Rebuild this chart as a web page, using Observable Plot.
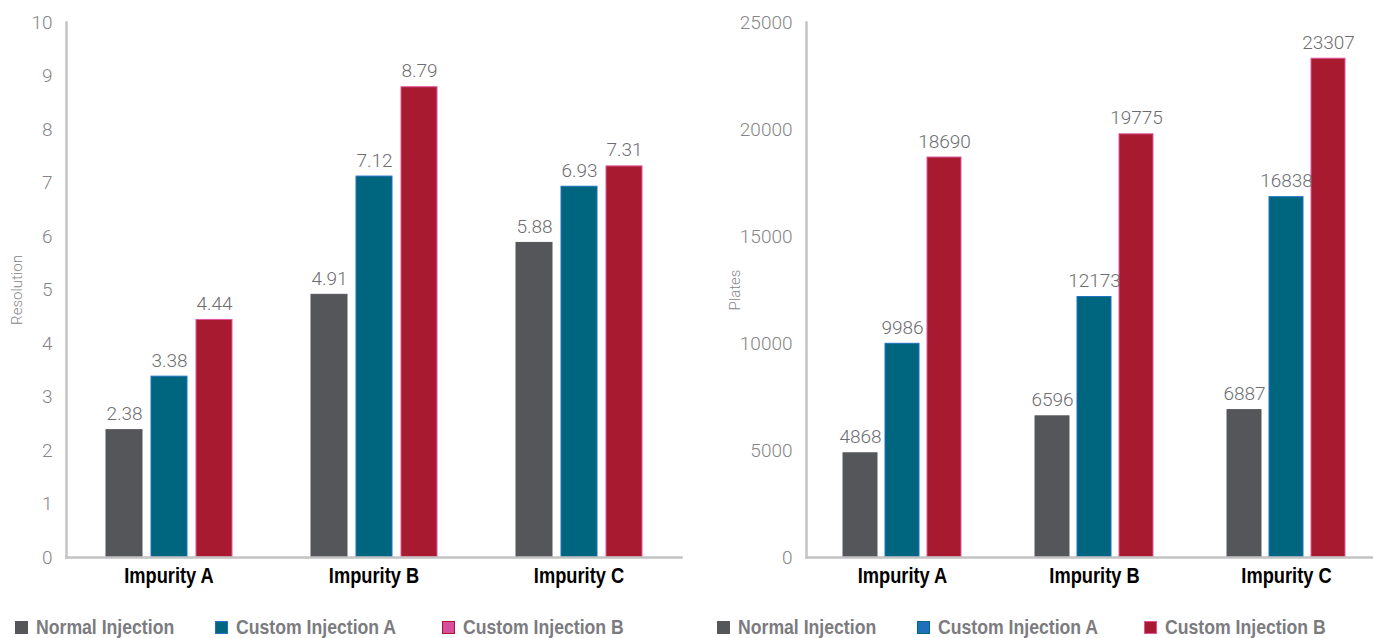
<!DOCTYPE html>
<html>
<head>
<meta charset="utf-8">
<script src="https://cdn.jsdelivr.net/npm/d3@7"></script>
<script src="https://cdn.jsdelivr.net/npm/@observablehq/plot@0.6"></script>
<style>
  html, body { margin: 0; padding: 0; background: #fff; }
  #wrap { position: relative; width: 1373px; height: 638px; overflow: hidden; }
  .panel { position: absolute; top: 0; width: 686px; height: 638px; }
  .legend { position: absolute; top: 615px; display: flex; align-items: center;
    font-family: "Liberation Sans", Arial, sans-serif;
    font-weight: bold; font-size: 21px; color: #7b7b80; white-space: nowrap; }
  .legend .item { display: flex; align-items: center; }
  .legend .sw { width: 13px; height: 13px; margin-right: 8px; box-sizing: border-box; border: 1.5px solid; }
  .legend span { display: inline-block; transform: scaleX(0.84); transform-origin: left center; }
</style>
</head>
<body>
<div id="wrap">
  <div class="panel" id="left" style="left:0"></div>
  <div class="panel" id="right" style="left:687px"></div>
</div>
<script>
const categories = ["Impurity A", "Impurity B", "Impurity C"];
const series = ["Normal Injection", "Custom Injection A", "Custom Injection B"];
const resolutionNormal = [2.38, 4.91, 5.88];
const resolutionCustomA = [3.38, 7.12, 6.93];
const resolutionCustomB = [4.44, 8.79, 7.31];
const platesNormal = [4868, 6596, 6887];
const platesCustomA = [9986, 12173, 16838];
const platesCustomB = [18690, 19775, 23307];
const resolutionTicks = [0, 1, 2, 3, 4, 5, 6, 7, 8, 9, 10];
const platesTicks = [0, 5000, 10000, 15000, 20000, 25000];

const fillColors = {"Normal Injection": "#55565a", "Custom Injection A": "#00657f", "Custom Injection B": "#a81a2f"};
const strokeColors = {"Normal Injection": "#55565a", "Custom Injection A": "#1f73c0", "Custom Injection B": "#e0569b"};

function table(vals) {
  const rows = [];
  categories.forEach((c, i) => vals.forEach((v, s) => rows.push({category: c, series: series[s], value: v[i]})));
  return rows;
}

const tickFont = "Roboto, 'Liberation Sans', sans-serif";
const catFont = "'Liberation Sans', Arial, sans-serif";

function chart({data, yDomain, ticks, label, marginLeft, fxRange, pi, po, labelOffset}) {
  return Plot.plot({
    width: 686,
    height: 610,
    marginTop: 22,
    marginBottom: 53,
    marginLeft,
    marginRight: 0,
    style: {fontFamily: tickFont, background: "transparent"},
    fx: {domain: categories, padding: 0, range: fxRange},
    x: {domain: series, paddingInner: pi, paddingOuter: po, axis: null},
    y: {domain: yDomain},
    color: {type: "identity"},
    marks: [
      Plot.barY(data, {fx: "category", x: "series", y: "value",
        fill: d => fillColors[d.series], stroke: d => strokeColors[d.series], strokeWidth: 1}),
      Plot.text(data, {fx: "category", x: "series", y: "value", text: d => String(d.value),
        dy: -10, lineAnchor: "bottom", fill: "#6d6d70", fontSize: 19, fontWeight: 300, fontFamily: tickFont}),
      Plot.frame({anchor: "left", facet: "super", stroke: "#c3c3c3", strokeWidth: 2.5}),
      Plot.frame({anchor: "bottom", facet: "super", stroke: "#c3c3c3", strokeWidth: 2.5}),
      Plot.axisY({ticks, tickFormat: d => String(d), tickSize: 0, tickPadding: 14, fontSize: 19, fontWeight: 300, fill: "#858588",
        label, labelAnchor: "center", labelArrow: "none", labelOffset}),
      Plot.axisFx({anchor: "bottom", tickSize: 0, tickPadding: 10, fontSize: 22, fontWeight: "bold",
        fontFamily: catFont, fill: "#000", label: null})
    ]
  });
}

const left = chart({data: table([resolutionNormal, resolutionCustomA, resolutionCustomB]),
  yDomain: [0, 10], ticks: resolutionTicks, label: "Resolution", marginLeft: 66,
  fxRange: [66, 681], pi: 0.21, po: 0.857, labelOffset: 55});
const right = chart({data: table([platesNormal, platesCustomA, platesCustomB]),
  yDomain: [0, 25000], ticks: platesTicks, label: "Plates", marginLeft: 119,
  fxRange: [119, 695], pi: 0.2, po: 0.859, labelOffset: 77});

document.getElementById("left").appendChild(left);
document.getElementById("right").appendChild(right);

for (const svg of [left, right]) {
  svg.querySelectorAll("[aria-label='y-axis label'] text").forEach(t => {
    t.setAttribute("font-size", "15"); t.setAttribute("fill", "#858588");
  });
  // condensed look for category labels
  svg.querySelectorAll("[aria-label='fx-axis tick label'] text").forEach(t => {
    const len = t.getComputedTextLength();
    t.setAttribute("textLength", (len * 0.83).toFixed(1));
    t.setAttribute("lengthAdjust", "spacingAndGlyphs");
  });
}

function legend(container, padLeft, swFill, swStroke) {
  const lg = document.createElement("div");
  lg.className = "legend";
  lg.style.left = padLeft + "px";
  const widths = [200, 227, 230];
  series.forEach((s, i) => {
    const it = document.createElement("div");
    it.className = "item";
    it.style.width = widths[i] + "px";
    const sw = document.createElement("div");
    sw.className = "sw";
    sw.style.background = swFill[s];
    sw.style.borderColor = swStroke[s];
    const tx = document.createElement("span");
    tx.textContent = s;
    it.appendChild(sw); it.appendChild(tx);
    lg.appendChild(it);
  });
  container.appendChild(lg);
}
legend(document.getElementById("left"), 15,
  {"Normal Injection": "#55565a", "Custom Injection A": "#00657f", "Custom Injection B": "#d94fa0"},
  {"Normal Injection": "#55565a", "Custom Injection A": "#1f73c0", "Custom Injection B": "#a81a2f"});
legend(document.getElementById("right"), 30,
  {"Normal Injection": "#55565a", "Custom Injection A": "#1f70bb", "Custom Injection B": "#a81a2f"},
  {"Normal Injection": "#55565a", "Custom Injection A": "#00657f", "Custom Injection B": "#e0569b"});
</script>
</body>
</html>
